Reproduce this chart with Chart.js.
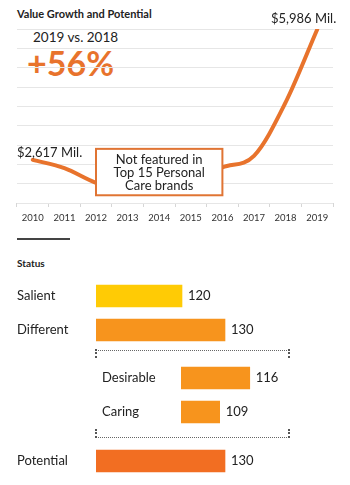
<!DOCTYPE html>
<html>
<head>
<meta charset="utf-8">
<script src="https://cdn.jsdelivr.net/npm/chart.js@4"></script>
<style>
  body { margin: 0; background: #fff; font-family: Lato, "Open Sans", sans-serif; color: #333; }
  #page { position: relative; width: 350px; height: 485px; overflow: hidden; }
  canvas { position: absolute; left: 0; }
  .txt { position: absolute; white-space: nowrap; }
  .bracket { position: absolute; left: 96px; width: 193px; border-top: 1px dotted #666; }
  .bracket .end { position: absolute; width: 0; height: 9px; border-left: 2px dotted #555; }
</style>
</head>
<body>
<div id="page">
  <div class="txt" style="left:17px; top:7px; font-size:11px; font-weight:bold; color:#222;">Value Growth and Potential</div>
  <div class="txt" style="left:33px; top:29px; font-size:13.5px; color:#222;">2019 vs. 2018</div>
  <div class="txt" style="left:27px; top:42px; font-size:34px; font-weight:bold; color:#E8732C;">+56%</div>

  <canvas id="growthChart" width="350" height="226" style="top:0"></canvas>

  <div style="position:absolute; left:17px; top:238px; width:53px; height:2px; background:#444;"></div>
  <div class="txt" style="left:17px; top:257px; font-size:10px; font-weight:bold; color:#222;">Status</div>

  <canvas id="mainBars" width="350" height="68" style="top:279px"></canvas>
  <div class="bracket" style="top:350px;">
    <div class="end" style="left:-1px; top:-2px;"></div>
    <div class="end" style="right:-1px; top:-2px;"></div>
  </div>
  <canvas id="subBars" width="350" height="68" style="top:361px"></canvas>
  <div class="bracket" style="top:437px;">
    <div class="end" style="left:-1px; top:-9px;"></div>
    <div class="end" style="right:-1px; top:-9px;"></div>
  </div>
  <canvas id="potentialBar" width="350" height="34" style="top:444px"></canvas>
</div>

<script>
// données du graphique de croissance (millions $)
const years = ['2010', '2011', '2012', '2013', '2014', '2015', '2016', '2017', '2018', '2019'];
const valueMil = [2617, 2400, 2020, 1800, 1850, 2050, 2420, 2720, 4100, 5986];

// données "Status"
const statusLabels = ['Salient', 'Different'];
const statusValues = [120, 130];
const subLabels = ['Desirable', 'Caring'];
const subValues = [116, 109];
const potentialLabels = ['Potential'];
const potentialValues = [130];

const LINE_ORANGE = '#E8732C';
const FONT = 'Lato, "Open Sans", sans-serif';

// annotations du graphique en ligne : étiquettes et encadré
const growthNotes = {
  id: 'growthNotes',
  afterDatasetsDraw(chart) {
    const ctx = chart.ctx;
    const x = chart.scales.x;
    const y = chart.scales.y;
    const first = chart.getDatasetMeta(0).data[0];
    const last = chart.getDatasetMeta(0).data[valueMil.length - 1];
    ctx.save();
    ctx.fillStyle = '#222';
    ctx.font = '13px ' + FONT;
    ctx.textBaseline = 'middle';
    ctx.textAlign = 'left';
    ctx.fillText('$' + valueMil[0].toLocaleString('en-US') + ' Mil.', chart.chartArea.left, first.y - 7);
    ctx.textAlign = 'right';
    ctx.fillText('$' + valueMil[valueMil.length - 1].toLocaleString('en-US') + ' Mil.', last.x + 19, last.y - 11);

    // encadré "Not featured"
    const bx1 = x.getPixelForValue(2);
    const bx2 = x.getPixelForValue(6);
    const by1 = y.getPixelForValue(2900);
    const by2 = y.getPixelForValue(1700);
    ctx.fillStyle = '#fff';
    ctx.fillRect(bx1, by1, bx2 - bx1, by2 - by1);
    ctx.strokeStyle = '#E07433';
    ctx.lineWidth = 2;
    ctx.strokeRect(bx1, by1, bx2 - bx1, by2 - by1);
    ctx.fillStyle = '#222';
    ctx.textAlign = 'center';
    const cx = (bx1 + bx2) / 2;
    ['Not featured in', 'Top 15 Personal', 'Care brands'].forEach((t, i) => {
      ctx.fillText(t, cx, by1 + 11 + i * 13);
    });
    ctx.restore();
  }
};

new Chart(document.getElementById('growthChart'), {
  type: 'line',
  data: {
    labels: years,
    datasets: [{
      data: valueMil,
      borderColor: LINE_ORANGE,
      borderWidth: 4,
      borderCapStyle: 'round',
      pointRadius: 0,
      cubicInterpolationMode: 'monotone',
      fill: false
    }]
  },
  options: {
    responsive: false,
    animation: false,
    layout: { padding: { left: 17, right: 17, top: 29, bottom: 0 } },
    plugins: { legend: { display: false }, tooltip: { enabled: false } },
    scales: {
      x: {
        offset: true,
        grid: { offset: true, drawOnChartArea: false, tickLength: 4, color: '#d6d6d6' },
        border: { display: false },
        ticks: { color: '#333', font: { family: FONT, size: 9.5 }, padding: 5, maxRotation: 0, autoSkip: false },
        afterFit(s) { s.height = 23; }
      },
      y: {
        min: 1500,
        max: 6000,
        ticks: { display: false, stepSize: 500 },
        grid: { color: '#e6e6e6', drawTicks: false },
        border: { display: false },
        afterFit(s) { s.width = 0; }
      }
    }
  },
  plugins: [growthNotes]
});

// valeurs à droite des barres
const barValues = {
  id: 'barValues',
  afterDatasetsDraw(chart) {
    const ctx = chart.ctx;
    ctx.save();
    ctx.fillStyle = '#222';
    ctx.font = '13px ' + FONT;
    ctx.textBaseline = 'middle';
    ctx.textAlign = 'left';
    chart.getDatasetMeta(0).data.forEach((bar, i) => {
      ctx.fillText(chart.data.datasets[0].data[i], bar.x + 6, bar.y);
    });
    ctx.restore();
  }
};

function makeBars(id, labels, values, colors, padLeft, labelWidth, xMax, padRight) {
  return new Chart(document.getElementById(id), {
    type: 'bar',
    data: {
      labels: labels,
      datasets: [{ data: values, backgroundColor: colors, barThickness: 22, borderWidth: 0 }]
    },
    options: {
      indexAxis: 'y',
      responsive: false,
      animation: false,
      layout: { padding: { left: padLeft, right: padRight, top: 0, bottom: 0 } },
      plugins: { legend: { display: false }, tooltip: { enabled: false } },
      scales: {
        x: { display: false, min: 100, max: xMax },
        y: {
          grid: { display: false },
          border: { display: false },
          ticks: { crossAlign: 'far', color: '#222', font: { family: FONT, size: 13 } },
          afterFit(s) {
            s.width = labelWidth;
            // pas de marge verticale pour les étiquettes : une rangée = 34 px
            s.paddingTop = 0;
            s.paddingBottom = 0;
          }
        }
      }
    },
    plugins: [barValues]
  });
}

makeBars('mainBars', statusLabels, statusValues, ['#FFCB05', '#F7941D'], 17, 79, 150, 39);
makeBars('subBars', subLabels, subValues, ['#F7941D', '#F7941D'], 102, 79, 137, 10);
makeBars('potentialBar', potentialLabels, potentialValues, ['#F26E22'], 17, 79, 150, 39);
</script>
</body>
</html>
